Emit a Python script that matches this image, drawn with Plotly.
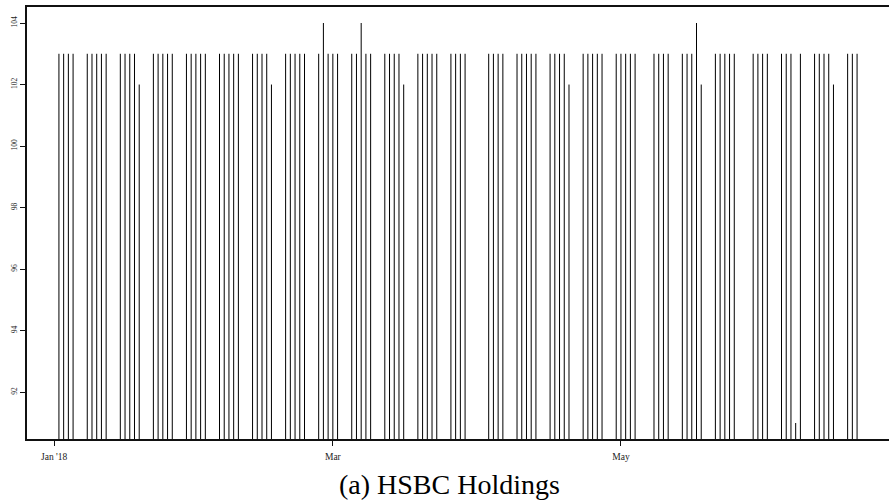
import pandas as pd
import plotly.graph_objects as go

# Daily series (UK trading days, Jan-Jun 2018)
dates = [
    "2018-01-02", "2018-01-03", "2018-01-04", "2018-01-05",
    "2018-01-08", "2018-01-09", "2018-01-10", "2018-01-11", "2018-01-12",
    "2018-01-15", "2018-01-16", "2018-01-17", "2018-01-18", "2018-01-19",
    "2018-01-22", "2018-01-23", "2018-01-24", "2018-01-25", "2018-01-26",
    "2018-01-29", "2018-01-30", "2018-01-31", "2018-02-01", "2018-02-02",
    "2018-02-05", "2018-02-06", "2018-02-07", "2018-02-08", "2018-02-09",
    "2018-02-12", "2018-02-13", "2018-02-14", "2018-02-15", "2018-02-16",
    "2018-02-19", "2018-02-20", "2018-02-21", "2018-02-22", "2018-02-23",
    "2018-02-26", "2018-02-27", "2018-02-28", "2018-03-01", "2018-03-02",
    "2018-03-05", "2018-03-06", "2018-03-07", "2018-03-08", "2018-03-09",
    "2018-03-12", "2018-03-13", "2018-03-14", "2018-03-15", "2018-03-16",
    "2018-03-19", "2018-03-20", "2018-03-21", "2018-03-22", "2018-03-23",
    "2018-03-26", "2018-03-27", "2018-03-28", "2018-03-29",
    "2018-04-03", "2018-04-04", "2018-04-05", "2018-04-06",
    "2018-04-09", "2018-04-10", "2018-04-11", "2018-04-12", "2018-04-13",
    "2018-04-16", "2018-04-17", "2018-04-18", "2018-04-19", "2018-04-20",
    "2018-04-23", "2018-04-24", "2018-04-25", "2018-04-26", "2018-04-27",
    "2018-04-30", "2018-05-01", "2018-05-02", "2018-05-03", "2018-05-04",
    "2018-05-08", "2018-05-09", "2018-05-10", "2018-05-11",
    "2018-05-14", "2018-05-15", "2018-05-16", "2018-05-17", "2018-05-18",
    "2018-05-21", "2018-05-22", "2018-05-23", "2018-05-24", "2018-05-25",
    "2018-05-29", "2018-05-30", "2018-05-31", "2018-06-01",
    "2018-06-04", "2018-06-05", "2018-06-06", "2018-06-07", "2018-06-08",
    "2018-06-11", "2018-06-12", "2018-06-13", "2018-06-14", "2018-06-15",
    "2018-06-18", "2018-06-19", "2018-06-20",
]

values = [
    103, 103, 103, 103,
    103, 103, 103, 103, 103,
    103, 103, 103, 103, 102,
    103, 103, 103, 103, 103,
    103, 103, 103, 103, 103,
    103, 103, 103, 103, 103,
    103, 103, 103, 103, 102,
    103, 103, 103, 103, 103,
    103, 104, 103, 103, 103,
    103, 103, 104, 103, 103,
    103, 103, 103, 103, 102,
    103, 103, 103, 103, 103,
    103, 103, 103, 103,
    103, 103, 103, 103,
    103, 103, 103, 103, 103,
    103, 103, 103, 103, 102,
    103, 103, 103, 103, 103,
    103, 103, 103, 103, 103,
    103, 103, 103, 103,
    103, 103, 103, 104, 102,
    103, 103, 103, 103, 103,
    103, 103, 103, 103,
    103, 103, 103, 91, 103,
    103, 103, 103, 103, 102,
    103, 103, 103,
]

y_ticks = [92, 94, 96, 98, 100, 102, 104]
x_tick_dates = ["2018-01-01", "2018-03-01", "2018-05-01"]
x_tick_labels = ["Jan '18", "Mar", "May"]
caption = "(a) HSBC Holdings"

# Axis limits padded by 4% of the data span on each side
d = pd.to_datetime(dates)
span = d.max() - d.min()
x_lo = d.min() - span * 0.04
x_hi = d.max() + span * 0.04
v_min, v_max = min(values), max(values)
pad = (v_max - v_min) * 0.04
y_lo, y_hi = v_min - pad, v_max + pad

# Vertical spikes from the bottom of the panel up to each value
xs, ys = [], []
for t, v in zip(d, values):
    xs += [t, t, None]
    ys += [y_lo, v, None]

fig = go.Figure(
    go.Scatter(
        x=xs, y=ys, mode="lines",
        line=dict(color="black", width=1),
        hoverinfo="skip", showlegend=False,
    )
)

serif = "Liberation Serif, DejaVu Serif, serif"

fig.update_layout(
    width=889, height=500, autosize=False,
    margin=dict(l=27, r=0, t=7, b=61),
    paper_bgcolor="white", plot_bgcolor="white",
    font=dict(family=serif, color="black"),
)

fig.update_xaxes(
    type="date", range=[x_lo, x_hi],
    showgrid=False, zeroline=False,
    showline=True, linewidth=2, linecolor="#111", mirror=True,
    ticks="outside", ticklen=5, tickwidth=1, tickcolor="#111",
    tickvals=x_tick_dates, ticktext=x_tick_labels,
    tickfont=dict(family=serif, size=9.5, color="#222"),
    ticklabelstandoff=3,
)

fig.update_yaxes(
    range=[y_lo, y_hi],
    showgrid=False, zeroline=False,
    showline=True, linewidth=2, linecolor="#111",
    ticks="outside", ticklen=5, tickwidth=1, tickcolor="#111",
    tickvals=y_ticks, ticktext=[str(v) for v in y_ticks],
    tickangle=-90,
    tickfont=dict(family=serif, size=7.5, color="#222"),
)

fig.add_annotation(
    text=caption, xref="paper", yref="paper",
    x=(449 - 27) / 862, y=-46 / 432,
    xanchor="center", yanchor="middle", showarrow=False,
    font=dict(family=serif, size=28, color="black"),
)

fig.write_html("out.html")
